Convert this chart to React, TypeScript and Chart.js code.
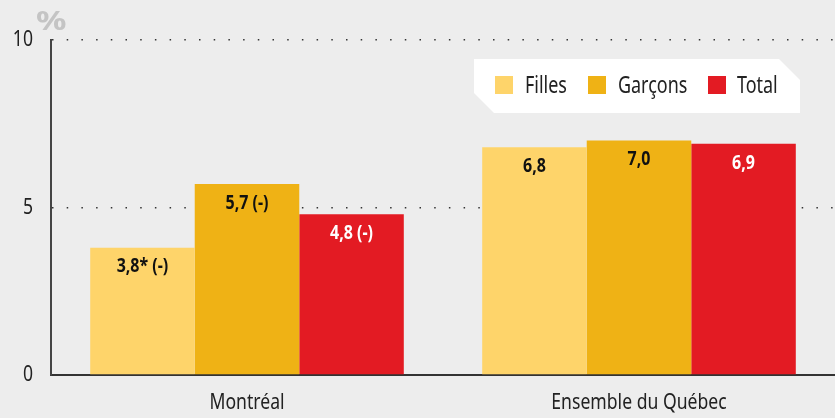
import React, { useEffect, useRef } from "react";
import { Chart, registerables } from "chart.js";

Chart.register(...registerables);

const categories = ["Montréal", "Ensemble du Québec"];
const seriesNames = ["Filles", "Garçons", "Total"];
const filles = [3.8, 6.8];
const garcons = [5.7, 7.0];
const total = [4.8, 6.9];
const fillesLabels = ["3,8* (-)", "6,8"];
const garconsLabels = ["5,7 (-)", "7,0"];
const totalLabels = ["4,8 (-)", "6,9"];
const yTicks = [0, 5, 10];

const COLORS = ["#FED46A", "#EFB215", "#E31B23"];
const LABEL_COLORS = ["#111111", "#111111", "#FFFFFF"];
const FONT = "'Noto Sans', 'Open Sans', sans-serif";
const BG = "#EDEDED";
const SX = 0.8; // horizontal condensing of text

const allLabels = [fillesLabels, garconsLabels, totalLabels];

function patchContext(ctx: any) {
  if (ctx.__condensed) return;
  const orig = ctx.fillText.bind(ctx);
  ctx.fillText = function (text: string, x: number, y: number, maxWidth?: number) {
    const sx = ctx.__sx || SX;
    ctx.save();
    ctx.translate(x, y);
    ctx.scale(sx, 1);
    if (maxWidth === undefined) orig(text, 0, 0);
    else orig(text, 0, 0, maxWidth / sx);
    ctx.restore();
  };
  ctx.__condensed = true;
}

const decorPlugin = {
  id: "decor",
  beforeDraw(chart: any) {
    const { ctx, width, height } = chart;
    patchContext(ctx);
    ctx.save();
    ctx.fillStyle = BG;
    ctx.fillRect(0, 0, width, height);
    ctx.restore();
  },
  afterDatasetsDraw(chart: any) {
    const { ctx } = chart;
    ctx.save();
    ctx.font = `bold 20px ${FONT}`;
    ctx.textAlign = "center";
    ctx.textBaseline = "middle";
    chart.data.datasets.forEach((ds: any, di: number) => {
      const meta = chart.getDatasetMeta(di);
      meta.data.forEach((bar: any, i: number) => {
        ctx.fillStyle = LABEL_COLORS[di];
        ctx.fillText(allLabels[di][i], bar.x, bar.y + 19);
      });
    });
    ctx.restore();
  },
  afterDraw(chart: any) {
    const { ctx } = chart;
    ctx.save();
    // percent sign
    ctx.__sx = 1.3;
    ctx.fillStyle = "#C4C4C4";
    ctx.font = `bold 26px ${FONT}`;
    ctx.textAlign = "left";
    ctx.textBaseline = "alphabetic";
    ctx.fillText("%", 36, 30);
    ctx.__sx = 0;

    // legend box
    const l = 474, t = 59, r = 800, b = 113, c1 = 21, c2 = 20;
    ctx.fillStyle = "#FFFFFF";
    ctx.beginPath();
    ctx.moveTo(l, t);
    ctx.lineTo(r - c1, t);
    ctx.lineTo(r, t + c1);
    ctx.lineTo(r, b);
    ctx.lineTo(l + c2, b);
    ctx.lineTo(l, b - c2);
    ctx.closePath();
    ctx.fill();

    const sq = [495, 588, 708];
    const tx = [525, 618, 737];
    ctx.font = `23px ${FONT}`;
    ctx.textBaseline = "middle";
    ctx.textAlign = "left";
    ctx.__sx = 0.78;
    chart.data.datasets.forEach((ds: any, di: number) => {
      ctx.fillStyle = COLORS[di];
      ctx.fillRect(sq[di], 76, 18, 18);
      ctx.fillStyle = "#222222";
      ctx.fillText(ds.label, tx[di], 86);
    });
    ctx.__sx = 0;
    ctx.restore();
  },
};

export default function App() {
  const ref = useRef<HTMLCanvasElement | null>(null);

  useEffect(() => {
    if (!ref.current) return;
    const chart = new Chart(ref.current, {
      type: "bar",
      data: {
        labels: categories,
        datasets: [filles, garcons, total].map((d, i) => ({
          label: seriesNames[i],
          data: d,
          backgroundColor: COLORS[i],
          borderWidth: 0,
          categoryPercentage: 0.8,
          barPercentage: 1.0,
        })),
      },
      options: {
        animation: false,
        responsive: false,
        events: [],
        layout: { padding: { top: 40, right: 0, left: 0, bottom: 0 } },
        plugins: {
          legend: { display: false },
          tooltip: { enabled: false },
        },
        scales: {
          x: {
            afterFit(scale: any) {
              scale.height = 43;
            },
            grid: { display: true, drawOnChartArea: false, drawTicks: false },
            border: { display: true, color: "#333333", width: 2 },
            ticks: {
              color: "#222222",
              padding: 15,
              font: { family: FONT, size: 22 },
            },
          },
          y: {
            min: 0,
            max: 10,
            afterFit(scale: any) {
              scale.width = 51;
            },
            afterBuildTicks(scale: any) {
              scale.ticks = yTicks.map((v) => ({ value: v }));
            },
            grid: {
              drawTicks: false,
              lineWidth: 1.5,
              color: (c: any) => (c.tick && c.tick.value === 0 ? "rgba(0,0,0,0)" : "#333333"),
            },
            border: { display: true, color: "#444444", width: 2, dash: [1.5, 13.2] },
            ticks: {
              color: "#222222",
              padding: 18,
              font: { family: FONT, size: 22 },
              callback: (v: any) => String(v),
            },
          },
        },
      },
      plugins: [decorPlugin],
    });
    return () => chart.destroy();
  }, []);

  return (
    <div style={{ position: "fixed", left: 0, top: 0, width: 835, height: 418, background: BG }}>
      <canvas ref={ref} width={835} height={418} style={{ display: "block" }} />
    </div>
  );
}
